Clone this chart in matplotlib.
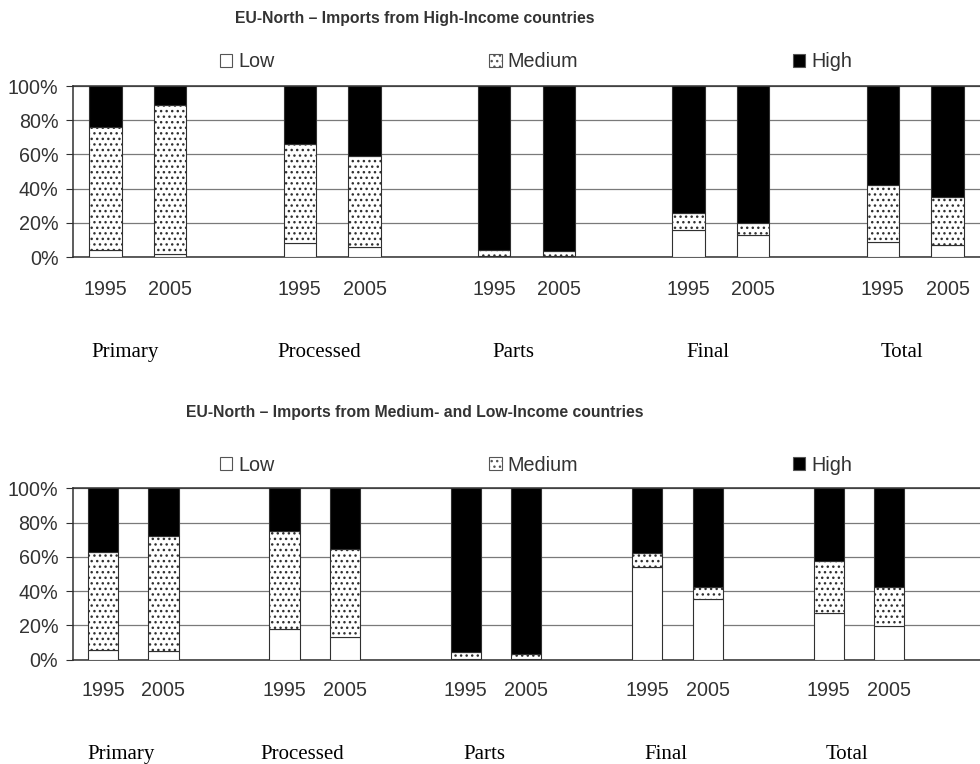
import matplotlib
matplotlib.use('Agg')
import matplotlib.pyplot as plt
from matplotlib.patches import Patch
from matplotlib.transforms import blended_transform_factory

groups = ['Primary', 'Processed', 'Parts', 'Final', 'Total']
years = ['1995', '2005']
series = ['Low', 'Medium', 'High']

# shares in %, order: Primary 95/05, Processed 95/05, Parts 95/05, Final 95/05, Total 95/05
high_low = [4, 2, 8, 6, 0.5, 0.5, 16, 13, 9, 7]
high_med = [72, 87, 58, 53, 3.5, 3, 10, 7, 33, 28]
high_high = [24, 11, 34, 41, 96, 96.5, 74, 80, 58, 65]

mid_low = [5.5, 5, 18, 13.5, 0.3, 0.3, 54, 35.5, 27.5, 19.5]
mid_med = [57.5, 67, 57, 51, 4, 2.8, 8, 7, 30, 23]
mid_high = [37, 28, 25, 35.5, 95.7, 96.9, 38, 57.5, 42.5, 57.5]

SANS = ['Liberation Sans', 'DejaVu Sans']
SERIF = ['Liberation Serif', 'DejaVu Serif']
TXT = '#333333'
EDGE = '#303030'
FS = 14.2

plt.rcParams['font.family'] = SANS
plt.rcParams['hatch.linewidth'] = 1.0


def draw_panel(fig, rect, low, med, high, n_slots, year_pad):
    ax = fig.add_axes(rect)
    x = []
    for g in range(len(groups)):
        x += [3 * g, 3 * g + 1]
    width = 0.5
    bot2 = [a + b for a, b in zip(low, med)]
    ax.bar(x, low, width, color='white', edgecolor=EDGE, linewidth=0.8, zorder=3)
    ax.bar(x, med, width, bottom=low, color='white', edgecolor=EDGE,
           linewidth=0.8, hatch='...', zorder=3)
    ax.bar(x, high, width, bottom=bot2, color='black', edgecolor=EDGE,
           linewidth=0.8, zorder=3)

    ax.set_xlim(-0.5, n_slots - 0.5)
    ax.set_ylim(0, 100)
    ax.set_yticks([0, 20, 40, 60, 80, 100])
    ax.set_yticklabels([f'{v}%' for v in range(0, 101, 20)])
    ax.set_xticks(x)
    ax.set_xticklabels(years * len(groups))
    ax.tick_params(axis='x', length=0, pad=year_pad, labelsize=FS, labelcolor=TXT)
    ax.tick_params(axis='y', length=5, width=0.8, color=EDGE, pad=5.5,
                   labelsize=FS, labelcolor=TXT)
    ax.grid(axis='y', color='#7a7a7a', linewidth=0.9, zorder=0)
    ax.set_axisbelow(True)
    for s in ['left', 'bottom', 'top']:
        ax.spines[s].set_color(EDGE)
        ax.spines[s].set_linewidth(1.1)
    ax.spines['right'].set_visible(False)
    trans = blended_transform_factory(ax.transData, fig.transFigure)
    return ax, trans


fig = plt.figure(figsize=(9.8, 7.64), dpi=100)

ax1, tr1 = draw_panel(fig, [0.0745, 0.6636, 0.9255, 0.2238],
                      high_low, high_med, high_high, 14, 16.5)
ax2, tr2 = draw_panel(fig, [0.0742, 0.1365, 0.9258, 0.2243],
                      mid_low, mid_med, mid_high, 15, 15.5)

# group names under each pair of years
for i, name in enumerate(groups):
    ax1.text(3 * i + 0.3, 0.5327, name, transform=tr1, ha='center', va='baseline',
             family=SERIF, fontsize=15, color='black')
    ax2.text(3 * i + 0.3, 0.006, name, transform=tr2, ha='center', va='baseline',
             family=SERIF, fontsize=15, color='black')

fig.text(0.4235, 0.976, 'EU-North \u2013 Imports from High-Income countries',
         ha='center', va='center', fontsize=11.3, fontweight='bold', color=TXT)
fig.text(0.4235, 0.4607, 'EU-North \u2013 Imports from Medium- and Low-Income countries',
         ha='center', va='center', fontsize=11.3, fontweight='bold', color=TXT)

handles = [Patch(facecolor='white', edgecolor='#555555', linewidth=0.8),
           Patch(facecolor='white', edgecolor='#555555', linewidth=0.8, hatch='...'),
           Patch(facecolor='black', edgecolor='#555555', linewidth=0.8)]
for ly in [0.919, 0.391]:
    fig.legend(handles, series, loc='center', bbox_to_anchor=(0.547, ly), ncol=3,
               frameon=False, fontsize=FS, labelcolor=TXT, handlelength=0.62,
               handleheight=0.62, handletextpad=0.3, columnspacing=10.9,
               borderaxespad=0, borderpad=0)

fig.savefig('out.png', dpi=100)
